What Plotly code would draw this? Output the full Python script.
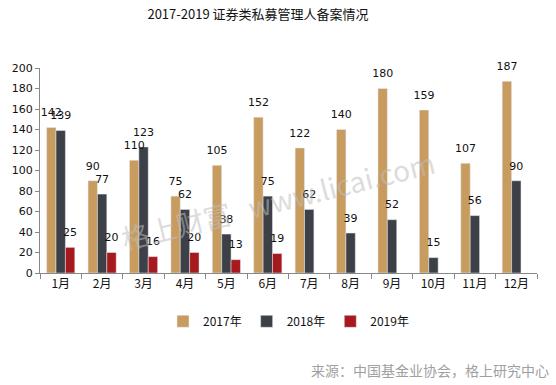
import plotly.graph_objects as go

months = ["1月", "2月", "3月", "4月", "5月", "6月", "7月", "8月", "9月", "10月", "11月", "12月"]
s2017 = [142, 90, 110, 75, 105, 152, 122, 140, 180, 159, 107, 187]
s2018 = [139, 77, 123, 62, 38, 75, 62, 39, 52, 15, 56, 90]
s2019 = [25, 20, 16, 20, 13, 19, None, None, None, None, None, None]
y_ticks = [0, 20, 40, 60, 80, 100, 120, 140, 160, 180, 200]

colors = {"2017年": "#C89B5F", "2018年": "#3D4047", "2019年": "#A6191F"}
num_font = dict(family="DejaVu Sans, Verdana, sans-serif", size=11, color="#111")
cjk = "Noto Sans CJK SC, sans-serif"
series = [("2017年", s2017), ("2018年", s2018), ("2019年", s2019)]

fig = go.Figure()
for name, vals in series:
    fig.add_trace(go.Bar(x=months, y=vals, name=name, marker_color=colors[name]))
# value labels drawn on top of all bars, aligned with the grouped bars
for name, vals in series:
    fig.add_trace(go.Scatter(
        x=months, y=vals, mode="markers+text", name=name + " 标签", showlegend=False,
        marker=dict(size=12, opacity=0),
        text=[("" if v is None else str(v)) for v in vals],
        textposition="top center", textfont=num_font, cliponaxis=False,
        hoverinfo="skip",
    ))

fig.update_layout(
    width=556, height=385,
    margin=dict(l=40, r=19, t=68, b=112),
    paper_bgcolor="white", plot_bgcolor="white",
    barmode="group", bargap=0.32, bargroupgap=0,
    scattermode="group", scattergap=0.32,
    font=dict(family=cjk, size=12, color="#111"),
    title=dict(text="2017-2019 证券类私募管理人备案情况", xref="container", x=258 / 556,
               xanchor="center", yref="container", y=1 - 14 / 385, yanchor="middle",
               font=dict(family=cjk, size=13, color="#111")),
    showlegend=True,
    legend=dict(orientation="h", x=0.5, xanchor="center", y=-0.165, yanchor="top",
                font=dict(family=cjk, size=12, color="#111"),
                itemwidth=30, traceorder="normal"),
)
fig.update_xaxes(type="category", showline=True, linecolor="#888", linewidth=1,
                 ticks="outside", tickson="boundaries", ticklen=5, tickcolor="#888",
                 tickfont=dict(family=cjk, size=12, color="#111"), showgrid=False)
fig.update_yaxes(range=[0, 200], tickvals=y_ticks, showline=True, linecolor="#888", linewidth=1,
                 ticks="outside", ticklen=4, tickcolor="#888", showgrid=False, zeroline=False,
                 tickfont=dict(family="DejaVu Sans, Verdana, sans-serif", size=11, color="#111"))

fig.add_annotation(text="格上财富\u00a0\u00a0\u00a0www.licai.com", xref="paper", yref="paper",
                   x=0.479, y=0.356, showarrow=False, textangle=-14,
                   font=dict(family=cjk, size=28, color="rgba(190,190,190,0.55)"))
fig.add_annotation(text="来源：中国基金业协会，格上研究中心", xref="paper", yref="paper",
                   x=(551 - 40) / 497, y=(273 - 370) / 205, xanchor="right", yanchor="middle",
                   showarrow=False,
                   font=dict(family=cjk, size=14, color="#A0A0A0"))

fig.write_html("out.html", post_script="document.body.style.margin='0';",
               config={"displayModeBar": False})
